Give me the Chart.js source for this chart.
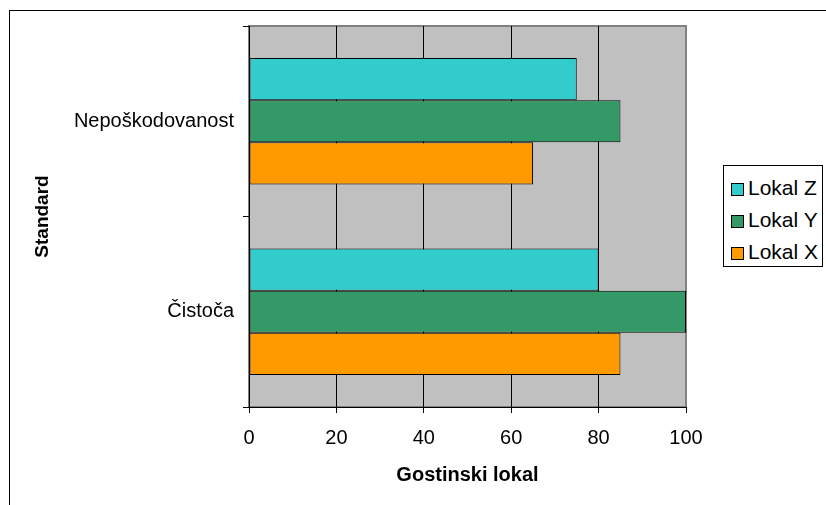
<!DOCTYPE html>
<html lang="sl">
<head>
    <meta charset="UTF-8">
    <title>Gostinski lokal</title>
    <script src="https://cdn.jsdelivr.net/npm/chart.js"></script>
    <style>
        html, body { margin: 0; padding: 0; background: #fff; overflow: hidden; }
        .wrap { position: relative; width: 826px; height: 505px; overflow: hidden; }
        .frame { position: absolute; left: 9px; top: 10px; width: 900px; height: 600px; border: 1px solid #000; }
        canvas { position: absolute; left: 0; top: 0; }
        .legend { position: absolute; left: 723px; top: 165px; width: 100px; height: 102px; border: 1px solid #000;
                  background: #fff; font-family: "Liberation Sans", Arial, sans-serif; font-size: 21px; padding-top: 6px; box-sizing: border-box; }
        .legend div { height: 32px; line-height: 32px; white-space: nowrap; padding-left: 7px; }
        .legend span { display: inline-block; width: 11px; height: 11px; border: 1px solid #000; margin-right: 4px; vertical-align: -1px; }
    </style>
</head>
<body>
<div class="wrap">
    <div class="frame"></div>
    <canvas id="chart" width="826" height="505"></canvas>
    <div class="legend" id="legend"></div>
</div>
<script>
    const categories = ['Nepoškodovanost', 'Čistoča'];
    const seriesNames = ['Lokal Z', 'Lokal Y', 'Lokal X'];
    const lokalZ = [75, 80];
    const lokalY = [85, 100];
    const lokalX = [65, 85];
    const xTicks = [0, 20, 40, 60, 80, 100];
    const colors = ['#33CCCC', '#339966', '#FF9900'];

    const font = '"Liberation Sans", Arial, sans-serif';

    // gray plot area with darker frame
    const plotBg = {
        id: 'plotBg',
        beforeDraw(chart) {
            const { ctx, chartArea: a } = chart;
            ctx.save();
            ctx.fillStyle = '#C0C0C0';
            ctx.fillRect(a.left, a.top, a.right - a.left, a.bottom - a.top);
            ctx.strokeStyle = '#808080';
            ctx.lineWidth = 2;
            ctx.strokeRect(a.left, a.top, a.right - a.left, a.bottom - a.top);
            ctx.restore();
        }
    };

    const values = [lokalZ, lokalY, lokalX];
    const chart = new Chart(document.getElementById('chart'), {
        type: 'bar',
        data: {
            labels: categories,
            datasets: seriesNames.map((name, i) => ({
                label: name,
                data: values[i],
                backgroundColor: colors[i],
                borderColor: '#000',
                borderWidth: 1,
                borderSkipped: false,
                categoryPercentage: 0.663,
                barPercentage: 1
            }))
        },
        options: {
            indexAxis: 'y',
            responsive: false,
            animation: false,
            layout: { padding: { top: 26, right: 140, left: 0, bottom: 0 } },
            plugins: { legend: { display: false }, tooltip: { enabled: false } },
            scales: {
                x: {
                    min: 0,
                    max: 100,
                    afterBuildTicks(scale) { scale.ticks = xTicks.map(v => ({ value: v })); },
                    afterFit(scale) { scale.height = 98; },
                    grid: {
                        color: c => (c.tick && c.tick.value === 100 ? '#808080' : '#000'),
                        lineWidth: 1,
                        tickLength: 6,
                        tickColor: '#000'
                    },
                    border: { color: '#000', width: 1 },
                    ticks: { color: '#000', font: { family: font, size: 20 }, padding: 13 },
                    title: {
                        display: true,
                        text: 'Gostinski lokal',
                        color: '#000',
                        font: { family: font, size: 20, weight: 'bold' },
                        padding: { top: 0, bottom: 18 }
                    }
                },
                y: {
                    afterFit(scale) { scale.width = 249; },
                    grid: { drawOnChartArea: false, color: '#000', tickLength: 6, offset: true },
                    border: { color: '#000', width: 1 },
                    ticks: { color: '#000', font: { family: font, size: 20 }, padding: 9 },
                    title: {
                        display: true,
                        text: 'Standard',
                        color: '#000',
                        font: { family: font, size: 19, weight: 'bold' },
                        padding: { top: 31, bottom: 0 }
                    }
                }
            }
        },
        plugins: [plotBg]
    });

    const legend = document.getElementById('legend');
    seriesNames.forEach((name, i) => {
        const row = document.createElement('div');
        const box = document.createElement('span');
        box.style.background = colors[i];
        row.appendChild(box);
        row.appendChild(document.createTextNode(name));
        legend.appendChild(row);
    });
</script>
</body>
</html>
